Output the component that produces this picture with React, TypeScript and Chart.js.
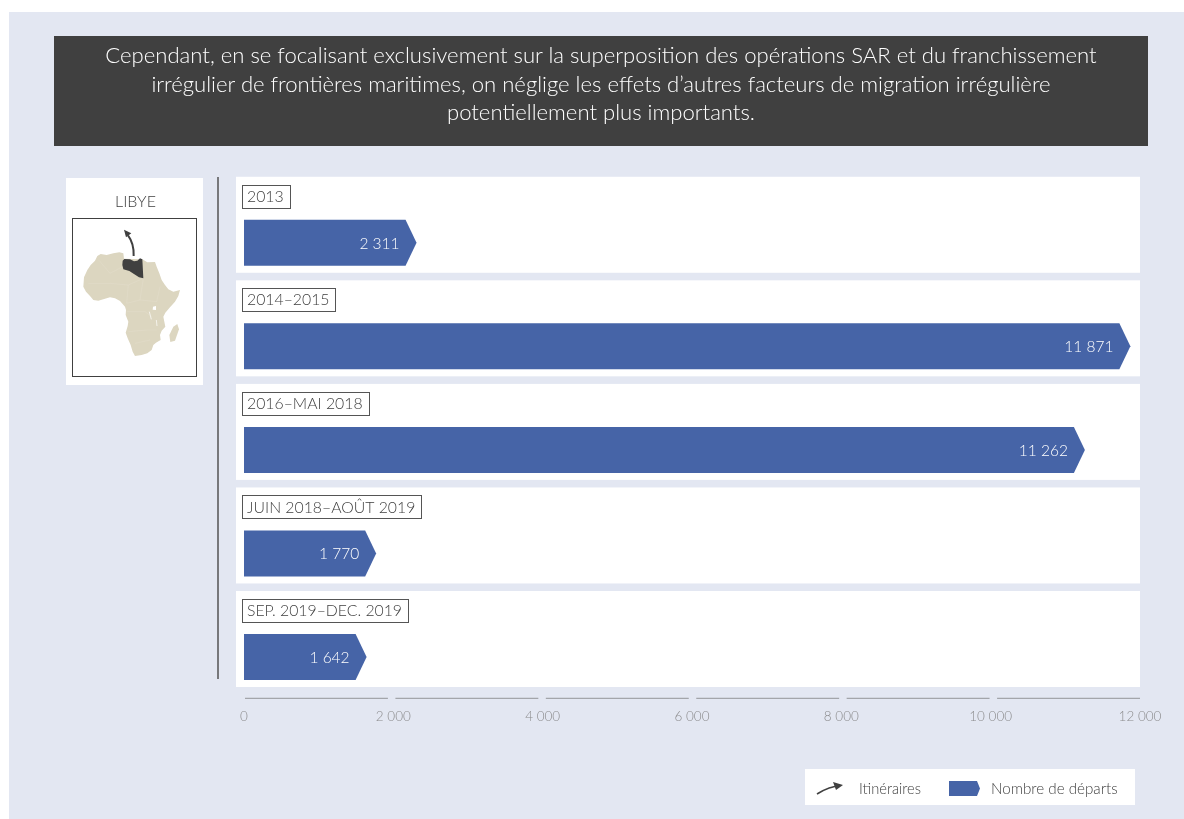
import React, { useEffect, useRef } from "react";
import { Chart, BarController, BarElement, CategoryScale, LinearScale } from "chart.js";

const periods = ["2013", "2014–2015", "2016–MAI 2018", "JUIN 2018–AOÛT 2019", "SEP. 2019–DEC. 2019"];
const departures = [2311, 11871, 11262, 1770, 1642];
const axisMax = 12000;
const axisStep = 2000;
const headline = [
  "Cependant, en se focalisant exclusivement sur la superposition des opérations SAR et du franchissement",
  "irrégulier de frontières maritimes, on néglige les effets d’autres facteurs de migration irrégulière",
  "potentiellement plus importants.",
];
const insetTitle = "LIBYE";
const legendRoute = "Itinéraires";
const legendBar = "Nombre de départs";

const FONT = "Lato, 'Open Sans', sans-serif";
const INK = "#404040";
const BLUE = "#4664a7";
const PAPER = "#e3e7f2";

const spaced = (v: number) => String(v).replace(/\B(?=(\d{3})+$)/g, " ");

// Horizontal bar whose free end is a chevron point that lands on the value.
class ArrowBar extends BarElement {
  static id = "arrowBar";
  draw(ctx: CanvasRenderingContext2D) {
    const { x, y, base, height } = this.getProps(["x", "y", "base", "height"], true) as any;
    const head = 11;
    const half = height / 2;
    ctx.save();
    ctx.fillStyle = (this.options as any).backgroundColor;
    ctx.beginPath();
    ctx.moveTo(base, y - half);
    ctx.lineTo(x - head, y - half);
    ctx.lineTo(x, y);
    ctx.lineTo(x - head, y + half);
    ctx.lineTo(base, y + half);
    ctx.closePath();
    ctx.fill();
    ctx.restore();
  }
}

class ArrowBarController extends BarController {
  static id = "arrowBar";
  static defaults = { ...BarController.defaults, dataElementType: "arrowBar" };
}

// White row bands behind the bars, period tags, the segmented axis rule and value labels.
const rowDecor = {
  id: "rowDecor",
  beforeDatasetsDraw(chart: any) {
    const { ctx, scales, chartArea } = chart;
    const yScale = scales.y;
    ctx.save();
    chart.data.labels.forEach((label: string, i: number) => {
      const c = yScale.getPixelForValue(i);
      ctx.fillStyle = "#ffffff";
      ctx.fillRect(236, c - 66, chartArea.right - 236, 96);
      ctx.font = `300 15.8px ${FONT}`;
      const w = ctx.measureText(label).width;
      ctx.strokeStyle = "#555555";
      ctx.lineWidth = 1;
      ctx.strokeRect(242.5, Math.round(c - 58) + 0.5, Math.round(w + 11), 23);
      ctx.fillStyle = INK;
      ctx.textAlign = "left";
      ctx.textBaseline = "middle";
      ctx.fillText(label, 247, c - 46);
    });
    const xScale = scales.x;
    const ruleY = chartArea.bottom - 10.5;
    const gap = 7.5;
    const count = xScale.ticks.length - 1;
    const from = chartArea.left + 1;
    const pitch = (chartArea.right - from + gap) / count;
    ctx.strokeStyle = "#939598";
    ctx.lineWidth = 1;
    ctx.beginPath();
    for (let i = 0; i < count; i++) {
      ctx.moveTo(from + i * pitch, ruleY);
      ctx.lineTo(from + i * pitch + pitch - gap, ruleY);
    }
    ctx.stroke();
    ctx.restore();
  },
  afterDatasetsDraw(chart: any) {
    const { ctx } = chart;
    const meta = chart.getDatasetMeta(0);
    ctx.save();
    ctx.fillStyle = "#ffffff";
    ctx.font = `300 15.5px ${FONT}`;
    ctx.textAlign = "right";
    ctx.textBaseline = "middle";
    meta.data.forEach((bar: any, i: number) => {
      ctx.fillText(spaced(chart.data.datasets[0].data[i]), bar.x - 17, bar.y + 1);
    });
    ctx.restore();
  },
};

Chart.register(ArrowBar, ArrowBarController, CategoryScale, LinearScale);

function AfricaInset() {
  return (
    <svg
      width={240}
      height={220}
      viewBox="0 0 720 660"
      style={{ position: "absolute", left: 60, top: 170 }}
    >
      <path
        fill="#dcd6c0"
        d="M112 258 L122 252 L140 255 L160 250 L178 247 L190 250 L192 266 L247 268 L262 277 L285 276 L290 290 L298 310 L305 330 L315 345 L325 358 L340 365 L360 360 L355 378 L345 395 L330 412 L316 428 L310 440 L313 455 L316 470 L305 482 L300 495 L302 510 L288 518 L280 525 L275 540 L262 550 L245 555 L225 558 L218 545 L212 525 L203 505 L197 488 L203 468 L205 455 L197 435 L198 420 L195 410 L180 393 L165 385 L150 382 L130 388 L115 392 L100 390 L90 378 L78 365 L70 350 L72 322 L82 300 L92 285 L105 272 Z"
      />
      <path fill="#dcd6c0" d="M352 462 L357 478 L345 512 L331 516 L328 495 L340 470 Z" />
      <path
        fill="none"
        stroke="#e6e1d0"
        strokeWidth={1}
        d="M118 272 L150 310 L188 290 M85 340 L150 340 L205 345 L250 325 M205 345 L200 400 L240 390 L290 395 L300 350 M240 390 L250 325 M200 425 L255 425 L275 440 M205 485 L260 480 L290 480 M225 520 L270 510"
      />
      <path fill="#ffffff" d="M279 410 L288 408 L288 420 L278 419 Z" />
      <path fill="none" stroke="#ffffff" strokeWidth={2} d="M268 425 L274 448 M289 450 L291 468" />
      <path
        fill={INK}
        d="M187 285 L188 272 L193 267 L210 268 L222 274 L232 272 L240 265 L247 268 L250 325 L237 322 L208 303 L190 298 Z"
      />
      <path fill="none" stroke={INK} strokeWidth={6} d="M221 258 C222 232 216 212 204 196" />
      <path fill={INK} d="M192 179 L214 190 L198 202 Z" />
    </svg>
  );
}

export default function App() {
  const canvasRef = useRef<HTMLCanvasElement>(null);

  useEffect(() => {
    const chart = new Chart(canvasRef.current!, {
      type: "arrowBar" as any,
      data: {
        labels: periods,
        datasets: [{ label: legendBar, data: departures, backgroundColor: BLUE, barThickness: 46 } as any],
      },
      options: {
        indexAxis: "y",
        animation: false,
        responsive: false,
        layout: { padding: { left: 244, right: 44, top: 191, bottom: 94 } },
        plugins: { legend: { display: false }, tooltip: { enabled: false } },
        scales: {
          y: { type: "category", display: false },
          x: {
            type: "linear",
            min: 0,
            max: axisMax,
            border: { display: false },
            grid: { display: false, drawTicks: false },
            ticks: {
              stepSize: axisStep,
              padding: 0,
              maxRotation: 0,
              color: "#8c8c8e",
              font: { family: FONT, size: 13.5, weight: "300" },
              callback: (v: any) => spaced(Number(v)),
            },
          },
        },
      } as any,
      plugins: [rowDecor],
    });
    return () => chart.destroy();
  }, []);

  const abs = (left: number, top: number, width: number, height: number): React.CSSProperties => ({
    position: "absolute",
    left,
    top,
    width,
    height,
  });

  return (
    <div style={{ ...abs(0, 0, 1184, 819), background: "#ffffff", overflow: "hidden", fontFamily: FONT, fontWeight: 300 }}>
      <div style={{ ...abs(9, 12, 1175, 807), background: PAPER }} />
      <div style={{ ...abs(54, 36, 1094, 110), background: INK }} />
      <div
        style={{
          ...abs(54, 36, 1094, 110),
          color: "#ffffff",
          fontSize: 22.1,
          lineHeight: "28.7px",
          textAlign: "center",
          paddingTop: 5,
          boxSizing: "border-box",
          whiteSpace: "nowrap",
          willChange: "transform",
        }}
      >
        {headline.map((line) => (
          <div key={line}>{line}</div>
        ))}
      </div>

      <div style={{ ...abs(66, 178, 137, 207), background: "#ffffff" }} />
      <div
        style={{
          ...abs(67, 191, 137, 20),
          textAlign: "center",
          color: INK,
          fontSize: 16,
          lineHeight: "20px",
          willChange: "transform",
        }}
      >
        {insetTitle}
      </div>
      <div style={{ ...abs(72, 218, 125, 159), border: `1px solid ${INK}`, boxSizing: "border-box" }} />
      <AfricaInset />
      <div style={{ ...abs(217, 177, 2, 502), background: "#77787b" }} />

      <canvas ref={canvasRef} width={1184} height={819} style={{ ...abs(0, 0, 1184, 819), display: "block" }} />

      <div style={{ ...abs(805, 769, 330, 36), background: "#ffffff" }} />
      <svg width={330} height={36} style={{ position: "absolute", left: 805, top: 769 }}>
        <path d="M12 25 C20 20 27 17 35 17" fill="none" stroke={INK} strokeWidth={1.6} />
        <path d="M38 16 L28 13 L31 21 Z" fill={INK} />
        <path d="M144 12 L172 12 L175 19.5 L172 27 L144 27 Z" fill={BLUE} />
      </svg>
      <div
        style={{
          ...abs(859, 778, 70, 20),
          color: INK,
          fontSize: 14.7,
          lineHeight: "20px",
          whiteSpace: "nowrap",
          willChange: "transform",
        }}
      >
        {legendRoute}
      </div>
      <div
        style={{
          ...abs(991, 778, 140, 20),
          color: INK,
          fontSize: 15.2,
          lineHeight: "20px",
          whiteSpace: "nowrap",
          willChange: "transform",
        }}
      >
        {legendBar}
      </div>
    </div>
  );
}
